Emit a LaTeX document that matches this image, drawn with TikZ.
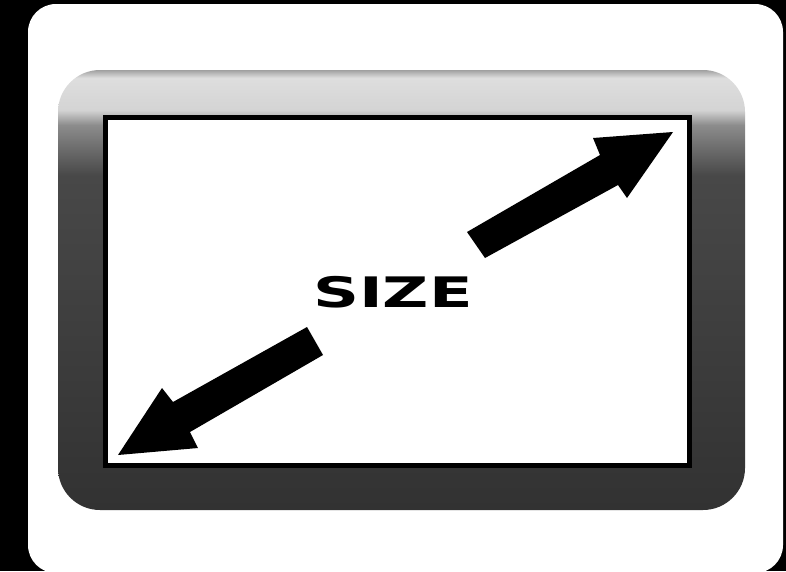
\documentclass[tikz,border=0pt]{standalone}
\usepackage{fontspec}
\newfontfamily\sizefont{DejaVu Sans}
\definecolor{fc1}{RGB}{160,160,160}
\definecolor{fc2}{RGB}{222,222,222}
\definecolor{fc3}{RGB}{212,212,212}
\definecolor{fc4}{RGB}{140,140,140}
\definecolor{fc5}{RGB}{72,72,72}
\definecolor{fc6}{RGB}{50,50,50}
\pgfdeclareverticalshading{frameshade}{100bp}{color(0bp)=(fc6); color(25bp)=(fc6); color(63bp)=(fc5); color(68.75bp)=(fc4); color(70.45bp)=(fc3); color(74.1bp)=(fc2); color(75bp)=(fc1); color(100bp)=(fc1)}
\tikzset{
  bigarrow/.style={fill=black, draw=none},
  framebox/.style={rounded corners=42pt, shading=frameshade, draw=none},
}
\begin{document}
\begin{tikzpicture}[x=1pt,y=-1pt]
\useasboundingbox (0,0) rectangle (786,571);
\fill[black] (0,0) rectangle (786,571);
\begin{scope}
\clip (0,0) rectangle (786,571);
\fill[white, rounded corners=28pt] (28,4) rectangle (783,573);
\end{scope}
\shade[framebox] (58,70) rectangle (745,510);
\fill[black] (103,115) rectangle (692,468);
\fill[white] (108,120) rectangle (687,463);
% upper-right arrow
\fill[bigarrow] (467,232) -- (600,155) -- (593,138) -- (673,132) -- (627,198) -- (618,185) -- (485,258) -- cycle;
% lower-left arrow
\fill[bigarrow] (307,327) -- (173,402) -- (162,388) -- (118,455) -- (198,448) -- (190,432) -- (323,355) -- cycle;
\node[inner sep=0pt, anchor=center, xscale=1.52] (size) at (393,292) {\sizefont\fontsize{42}{42}\selectfont\bfseries SIZE};
\end{tikzpicture}
\end{document}
